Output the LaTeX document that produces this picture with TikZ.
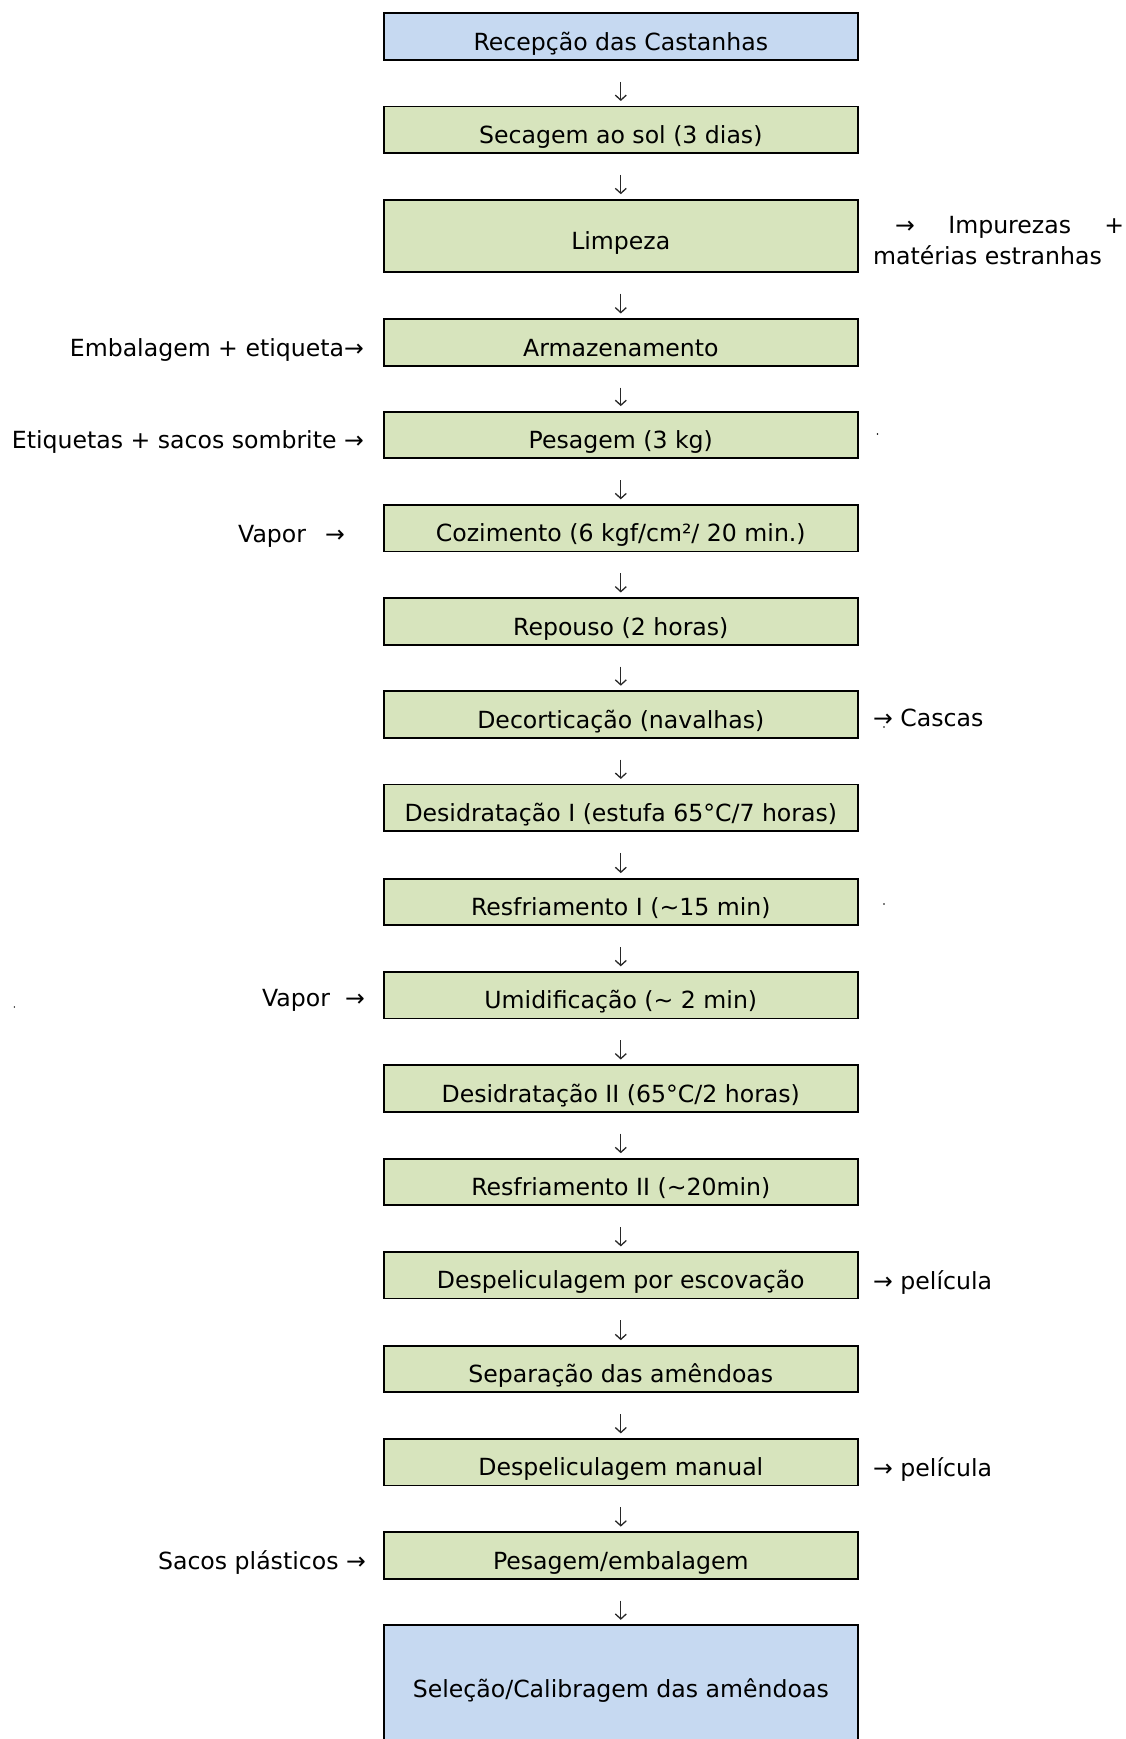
\documentclass[tikz,border=0pt]{standalone}
\usepackage{fontspec}
\setmainfont{DejaVu Sans}
\usetikzlibrary{arrows.meta}
\definecolor{boxblue}{RGB}{198,217,241}
\definecolor{boxgreen}{RGB}{215,228,189}
\definecolor{arrowgray}{RGB}{40,40,40}
\begin{document}
\begin{tikzpicture}[x=1pt,y=-1pt,
  every node/.style={font=\fontsize{23.6pt}{31pt}\selectfont},
  box/.style={draw=black,line width=1.8pt,minimum width=473.6pt,minimum height=46.6pt,
    inner sep=0pt,text height=27.5pt,text depth=0pt,fill=boxgreen},
  bluebox/.style={box,fill=boxblue},
  sidel/.style={anchor=base east,inner sep=0pt},
  sider/.style={anchor=base west,inner sep=0pt},
  flow/.style={draw=arrowgray,line width=1.3pt,-{Straight Barb[length=5pt,width=11pt]},
    shorten <=21pt,shorten >=4.6pt},
  dotmark/.style={circle,fill=black,inner sep=0pt,minimum size=1.6pt}]
\useasboundingbox (0,0) rectangle (1126,1739);
\fill[white] (0,0) rectangle (1126,1739);

\node[bluebox] (b1) at (620.8,36.6) {Recepção das Castanhas};
\node[box] (b2) at (620.8,129.8) {Secagem ao sol (3 dias)};
\node[box,minimum height=72.1pt] (b3) at (620.8,235.75) {Limpeza};
\node[box] (b4) at (620.8,342.3) {Armazenamento};
\node[box] (b5) at (620.8,434.9) {Pesagem (3 kg)};
\node[box] (b6) at (620.8,528.1) {Cozimento (6 kgf/cm²/ 20 min.)};
\node[box] (b7) at (620.8,621.3) {Repouso (2 horas)};
\node[box] (b8) at (620.8,714.5) {Decorticação (navalhas)};
\node[box] (b9) at (620.8,807.7) {Desidratação I (estufa 65°C/7 horas)};
\node[box] (b10) at (620.8,901.9) {Resfriamento I (\textasciitilde15 min)};
\node[box] (b11) at (620.8,995.1) {Umidificação (\textasciitilde\ 2 min)};
\node[box] (b12) at (620.8,1088.3) {Desidratação II (65°C/2 horas)};
\node[box] (b13) at (620.8,1182) {Resfriamento II (\textasciitilde20min)};
\node[box] (b14) at (620.8,1275.2) {Despeliculagem por escovação};
\node[box] (b15) at (620.8,1369) {Separação das amêndoas};
\node[box] (b16) at (620.8,1462.2) {Despeliculagem manual};
\node[box] (b17) at (620.8,1555.4) {Pesagem/embalagem};
\node[bluebox,minimum height=117.4pt] (b18) at (620.8,1684) {Seleção/Calibragem das amêndoas};

\foreach \a/\b in {b1/b2,b2/b3,b3/b4,b4/b5,b5/b6,b6/b7,b7/b8,b8/b9,b9/b10,b10/b11,b11/b12,b12/b13,b13/b14,b14/b15,b15/b16,b16/b17,b17/b18}
  \draw[flow] (\a) -- (\b);

% left inputs
\node[sidel] (in4) at (364,356.3) {Embalagem + etiqueta→};
\node[sidel] (in5) at (364,448.9) {Etiquetas + sacos sombrite →};
\node[sidel] (in6) at (345,542.1) {Vapor \ \,→};
\node[sidel] (in11) at (365,1006.9) {Vapor \ →};
\node[sidel] (in17) at (366,1569.4) {Sacos plásticos →};

% right outputs
\node[sider] (out3a) at (875,233.5) {\makebox[249pt][s]{\hspace{20pt}→\hfill Impurezas\hfill +}};
\node[sider] (out3b) at (873,264.5) {matérias estranhas};
\node[sider] (out8) at (873,726.3) {→ Cascas};
\node[sider] (out14) at (873,1289.2) {→ película};
\node[sider] (out16) at (873,1476.2) {→ película};

% stray marks
\node[dotmark] (d1) at (877.5,434) {};
\node[dotmark] (d2) at (884,727) {};
\node[dotmark] (d3) at (884,904) {};
\node[dotmark] (d4) at (14.4,1007) {};
\end{tikzpicture}
\end{document}
